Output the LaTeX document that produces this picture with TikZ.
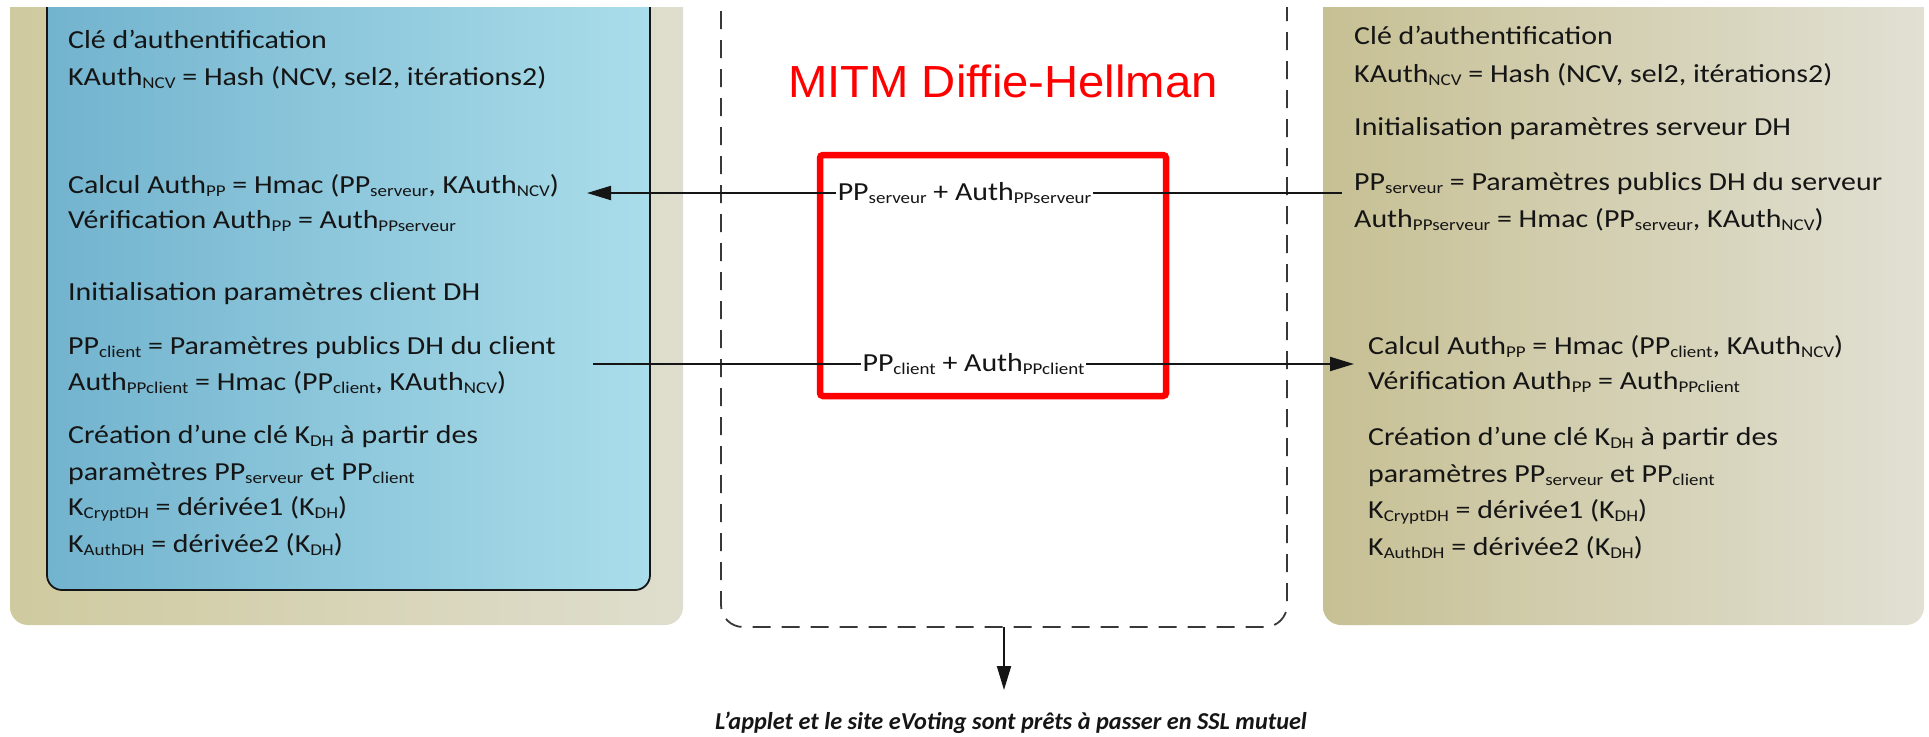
\documentclass[tikz,border=0pt]{standalone}
\usepackage{fontspec}
\setmainfont{Carlito}[FakeStretch=1.15]
\newfontfamily\notefont{Carlito}
\newfontfamily\titlefont{Liberation Sans}[FakeStretch=1.05]
\usetikzlibrary{arrows.meta}

% small lowered index used throughout the formulas
\newcommand\subx[1]{\raisebox{-3pt}{\fontsize{16.5}{16.5}\selectfont #1}}

\definecolor{tanL}{HTML}{CFCA9F}
\definecolor{tanR}{HTML}{DFDECE}
\definecolor{blueL}{HTML}{72B3CE}
\definecolor{blueR}{HTML}{AADDEA}
\definecolor{srvL}{HTML}{C7C094}
\definecolor{srvR}{HTML}{E1E0D3}
\definecolor{ink}{HTML}{151515}
\definecolor{mitm}{HTML}{FF0000}

\begin{document}
\begin{tikzpicture}[x=1pt,y=-1pt,
  txt/.style={anchor=base west, inner sep=0pt, font=\fontsize{26}{36}\selectfont, text=ink},
  arr/.style={draw=ink, line width=2pt, -{Triangle[length=24pt,width=14pt]}},
  lab/.style={fill=white, inner xsep=2pt, inner ysep=3pt, font=\fontsize{26}{36}\selectfont, text=ink},
  zone/.style={draw=ink!85, line width=1.8pt, dash pattern=on 18pt off 11pt, rounded corners=22pt},
  redbox/.style={draw=mitm, line width=6.5pt, rounded corners=3pt, minimum width=346pt, minimum height=241pt, inner sep=0pt},
]
\useasboundingbox (0,0) rectangle (1929,736);

% panels, cut at the top edge
\begin{scope}
  \clip (0,7) rectangle (1929,736);
  \shade[left color=tanL, right color=tanR, rounded corners=18pt] (10,-40) rectangle (683,625);
  \shade[left color=blueL, right color=blueR, rounded corners=15pt] (47,-40) rectangle (650,590);
  \draw[ink, line width=1.8pt, rounded corners=15pt] (47,-40) rectangle (650,590);
  \shade[left color=srvL, right color=srvR, rounded corners=18pt] (1323,-40) rectangle (1924,625);
  \draw[zone] (721,-40) rectangle (1287,627);
\end{scope}

% client side
\node[txt] (L1)  at (68,48)  {Clé d’authentification};
\node[txt] (L2)  at (68,85)  {KAuth\subx{NCV} = Hash (NCV, sel2, itérations2)};
\node[txt] (L3)  at (68,193) {Calcul Auth\subx{PP} = Hmac (PP\subx{serveur}, KAuth\subx{NCV})};
\node[txt] (L4)  at (68,228) {Vérification Auth\subx{PP} = Auth\subx{PPserveur}};
\node[txt] (L5)  at (68,300) {Initialisation paramètres client DH};
\node[txt] (L6)  at (68,354) {PP\subx{client} = Paramètres publics DH du client};
\node[txt] (L7)  at (68,390) {Auth\subx{PPclient} = Hmac (PP\subx{client}, KAuth\subx{NCV})};
\node[txt] (L8)  at (68,443) {Création d’une clé K\subx{DH} à partir des};
\node[txt] (L9)  at (68,480) {paramètres PP\subx{serveur} et PP\subx{client}};
\node[txt] (L10) at (68,515) {K\subx{CryptDH} = dérivée1 (K\subx{DH})};
\node[txt] (L11) at (68,552) {K\subx{AuthDH} = dérivée2 (K\subx{DH})};

% server side
\node[txt] (R1)  at (1354,44)  {Clé d’authentification};
\node[txt] (R2)  at (1354,82)  {KAuth\subx{NCV} = Hash (NCV, sel2, itérations2)};
\node[txt] (R3)  at (1354,135) {Initialisation paramètres serveur DH};
\node[txt] (R4)  at (1354,190) {PP\subx{serveur} = Paramètres publics DH du serveur};
\node[txt] (R5)  at (1354,227) {Auth\subx{PPserveur} = Hmac (PP\subx{serveur}, KAuth\subx{NCV})};
\node[txt] (R6)  at (1368,354) {Calcul Auth\subx{PP} = Hmac (PP\subx{client}, KAuth\subx{NCV})};
\node[txt] (R7)  at (1368,389) {Vérification Auth\subx{PP} = Auth\subx{PPclient}};
\node[txt] (R8)  at (1368,445) {Création d’une clé K\subx{DH} à partir des};
\node[txt] (R9)  at (1368,482) {paramètres PP\subx{serveur} et PP\subx{client}};
\node[txt] (R10) at (1368,518) {K\subx{CryptDH} = dérivée1 (K\subx{DH})};
\node[txt] (R11) at (1368,555) {K\subx{AuthDH} = dérivée2 (K\subx{DH})};

% attacker in the middle
\node[text=mitm, font=\titlefont\fontsize{45}{50}\selectfont, anchor=base, inner sep=0pt] (title) at (1003,97) {MITM Diffie-Hellman};
\node[redbox] (mitmbox) at (993,275.5) {};

% message end points
\coordinate (srvOut) at (1342,193);
\coordinate (cliIn)  at (587,193);
\coordinate (cliOut) at (593,364);
\coordinate (srvIn)  at (1354,364);

\draw[arr] (srvOut) -- node[lab] (m1) {PP\subx{serveur} + Auth\subx{PPserveur}} (cliIn);
\draw[arr] (cliOut) -- node[lab] (m2) {PP\subx{client} + Auth\subx{PPclient}} (srvIn);

% outcome
\coordinate (zoneBot) at (1004,627);
\coordinate (outTip)  at (1004,690);
\draw[arr] (zoneBot) -- (outTip);
\node[anchor=base, inner sep=0pt, text=ink, font=\notefont\fontsize{24.3}{30}\selectfont\bfseries\itshape] (concl) at (1011,729)
  {L’applet et le site eVoting sont prêts à passer en SSL mutuel};
\end{tikzpicture}
\end{document}
